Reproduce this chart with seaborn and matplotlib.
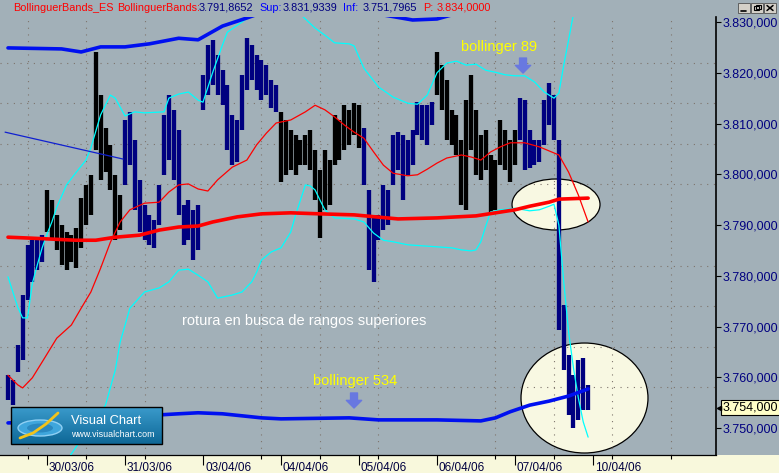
import matplotlib
matplotlib.use("Agg")
import numpy as np
import pandas as pd
import matplotlib.pyplot as plt
import seaborn as sns
import matplotlib.transforms as mtransforms
from matplotlib.patches import Ellipse, Rectangle
from matplotlib.ticker import FixedLocator, FixedFormatter, FuncFormatter
from matplotlib.colors import LinearSegmentedColormap

# ---------------- data ----------------
day_labels = ["30/03/06", "31/03/06", "03/04/06", "04/04/06",
              "05/04/06", "06/04/06", "07/04/06", "10/04/06"]
bars_per_day = 16
first_bar_offset = -0.5      # first bar sits half a session before 30/03

bar_high = [3760.4, 3759.5, 3766.4, 3776.2, 3786.1, 3787.0, 3787.4, 3788.0,
            3796.9, 3794.9, 3792.0, 3790.0, 3788.6, 3788.0, 3789.4, 3795.3,
            3797.9, 3799.9, 3824.1, 3815.6, 3809.1, 3805.8, 3799.9, 3795.9,
            3810.7, 3812.3, 3806.7, 3798.9, 3793.9, 3792.0, 3791.0, 3797.9,
            3811.7, 3815.6, 3812.7, 3808.7, 3793.9, 3794.9, 3793.0, 3793.9,
            3819.6, 3825.5, 3826.5, 3823.5, 3820.5, 3817.6, 3811.7, 3810.7,
            3819.6, 3826.8, 3825.5, 3823.5, 3822.5, 3821.5, 3818.6, 3817.6,
            3812.3, 3810.7, 3808.7, 3807.7, 3806.7, 3807.7, 3808.7, 3804.8,
            3800.8, 3804.8, 3802.8, 3811.7, 3810.7, 3813.6, 3812.7, 3814.0,
            3813.6, 3809.1, 3796.9, 3792.0, 3792.0, 3797.9, 3796.9, 3807.7,
            3808.3, 3807.7, 3806.7, 3808.7, 3814.2, 3813.6, 3813.6, 3814.2,
            3824.1, 3821.5, 3818.6, 3812.7, 3811.7, 3806.7, 3814.6, 3819.6,
            3812.7, 3807.7, 3808.7, 3803.8, 3802.8, 3810.7, 3808.7, 3806.7,
            3808.7, 3815.0, 3814.6, 3808.7, 3806.7, 3806.7, 3814.6, 3818.0,
            3815.6, 3806.7, 3774.2, 3764.4, 3760.4, 3763.4, 3763.8, 3758.5]
bar_low = [3755.5, 3754.5, 3761.0, 3763.4, 3775.2, 3778.8, 3781.1, 3782.7,
           3788.6, 3787.0, 3785.1, 3782.1, 3781.1, 3782.7, 3781.5, 3785.5,
           3790.0, 3792.0, 3804.8, 3798.9, 3800.4, 3796.9, 3787.0, 3789.0,
           3797.9, 3801.8, 3793.0, 3788.6, 3787.0, 3786.1, 3785.5, 3790.0,
           3799.9, 3802.8, 3798.9, 3792.0, 3786.1, 3787.0, 3783.1, 3785.1,
           3812.7, 3815.6, 3817.6, 3815.6, 3813.6, 3804.8, 3801.8, 3802.4,
           3808.7, 3816.6, 3818.6, 3816.6, 3814.6, 3815.6, 3813.1, 3812.3,
           3798.5, 3799.9, 3800.8, 3799.9, 3801.8, 3801.8, 3800.8, 3794.9,
           3787.4, 3793.0, 3793.9, 3801.8, 3802.8, 3804.8, 3805.8, 3807.7,
           3805.2, 3797.9, 3781.1, 3778.8, 3787.0, 3789.0, 3790.0, 3797.9,
           3800.8, 3794.9, 3799.9, 3801.8, 3807.7, 3806.7, 3805.8, 3809.7,
           3815.6, 3812.7, 3806.7, 3805.8, 3803.8, 3793.9, 3793.0, 3804.8,
           3799.9, 3798.9, 3800.8, 3792.0, 3793.0, 3801.8, 3800.8, 3798.5,
           3801.8, 3806.7, 3800.8, 3801.2, 3801.8, 3802.4, 3805.8, 3809.7,
           3806.7, 3769.3, 3761.4, 3752.6, 3750.0, 3751.6, 3753.5, 3753.5]
# 1 = black bar, 0 = navy bar (runs of bars)
bar_dark = [0] * 8 + [1] * 16 + [0] * 32 + [1] * 17 + [0] * 15 + [1] * 17 + [0] * 15

# Bollinger 534 (thick)
upper534_idx = [0, 11, 15, 19, 24, 29, 35, 39, 44, 49, 54, 60, 70, 77, 83, 88, 91, 100, 110, 119]
upper534_val = [3824.9, 3824.7, 3824.1, 3825.1, 3825.1, 3825.7, 3826.8, 3826.5, 3829.2, 3830.8,
                3832.5, 3834.0, 3833.0, 3831.4, 3830.4, 3830.6, 3831.4, 3833.5, 3835.0, 3836.0]
lower534_idx = [0, 11, 24, 35, 39, 44, 52, 56, 70, 76, 88, 97, 100, 103, 107, 111, 115, 119]
lower534_val = [3751.0, 3751.4, 3752.2, 3752.8, 3753.0, 3752.8, 3752.0, 3751.8, 3752.0,
                3751.6, 3751.6, 3751.4, 3752.0, 3753.2, 3754.5, 3755.3, 3756.3, 3757.7]
mid534_idx = [0, 5, 14, 18, 22, 27, 31, 35, 39, 42, 47, 52, 58, 64, 71, 80, 88, 96,
              100, 104, 107, 111, 113, 119]
mid534_val = [3787.6, 3787.4, 3787.0, 3787.0, 3787.6, 3788.0, 3789.0, 3789.6, 3789.8, 3790.6,
              3791.6, 3792.2, 3792.4, 3792.2, 3792.0, 3791.2, 3791.4, 3791.8, 3792.4, 3793.0,
              3793.7, 3794.5, 3795.1, 3795.3]

# Bollinger 89 (thin)
mid89_idx = [0, 2, 3, 5, 7, 10, 13, 15, 17, 19, 21, 23, 25, 28, 31, 33, 35, 37, 39, 41,
             43, 46, 49, 51, 53, 55, 58, 61, 63, 65, 67, 69, 71, 73, 75, 77, 79, 82, 84, 86,
             88, 90, 93, 95, 97, 99, 101, 103, 106, 109, 111, 113, 115, 117, 119]
mid89_val = [3760.4, 3758.5, 3757.9, 3759.9, 3763.0, 3767.7, 3770.3, 3773.6, 3776.8, 3781.5,
             3786.6, 3790.6, 3793.0, 3794.3, 3794.5, 3796.5, 3797.9, 3798.1, 3797.1, 3796.7,
             3798.9, 3801.4, 3802.8, 3805.8, 3808.1, 3810.1, 3810.7, 3812.3, 3813.6, 3812.7,
             3811.3, 3809.7, 3808.3, 3807.1, 3804.4, 3801.8, 3800.2, 3799.7, 3799.9, 3801.0,
             3802.2, 3803.2, 3803.8, 3803.4, 3802.8, 3804.4, 3805.4, 3806.2, 3806.2, 3805.4,
             3804.6, 3803.8, 3800.4, 3795.9, 3790.6]
upper89_idx = [0, 1, 2, 3, 4, 5, 6, 7, 8, 9, 10, 12, 14, 16, 17, 19, 21, 22, 24, 26, 28,
               32, 33, 35, 37, 39, 40, 42, 44, 45, 48, 50, 52, 54, 57, 59, 60, 63, 65, 67,
               70, 71, 73, 76, 79, 82, 84, 86, 88, 90, 92, 94, 96, 98, 100, 102, 104, 106,
               108, 110, 112, 113, 114, 115, 116, 117, 118, 119]
upper89_val = [3779.8, 3776.8, 3773.8, 3771.7, 3771.7, 3778.5, 3782.1, 3785.5, 3788.2, 3790.6,
               3793.5, 3797.9, 3800.4, 3802.8, 3805.2, 3811.7, 3815.6, 3815.0, 3811.5, 3812.3,
               3812.1, 3812.3, 3815.0, 3815.8, 3816.2, 3814.6, 3814.2, 3820.1, 3825.5, 3828.0,
               3830.0, 3831.4, 3833.5, 3835.0, 3835.5, 3834.0, 3831.5, 3828.8, 3827.4, 3825.9,
               3825.7, 3825.3, 3820.9, 3817.2, 3815.2, 3814.0, 3813.8, 3815.6, 3820.0, 3821.9,
               3822.3, 3821.5, 3821.7, 3820.5, 3820.1, 3819.6, 3819.4, 3819.4, 3818.2, 3816.2,
               3815.0, 3816.0, 3821.5, 3826.5, 3831.6, 3837.0, 3842.0, 3846.0]
lower89_idx = [0, 8, 12, 14, 16, 20, 22, 23, 25, 28, 31, 33, 35, 37, 39, 41, 43, 46, 48, 50,
               51, 52, 54, 56, 58, 59, 61, 62, 63, 64, 65, 67, 71, 73, 75, 77, 79, 82, 88, 91,
               93, 95, 96, 97, 98, 99, 101, 104, 107, 109, 111, 112, 113, 114, 115, 116, 117,
               118, 119]
lower89_val = [3735.0, 3739.0, 3743.5, 3746.3, 3749.2, 3754.5, 3761.4, 3766.9, 3773.6, 3776.8,
               3777.6, 3778.8, 3781.1, 3781.3, 3780.1, 3778.8, 3775.6, 3776.2, 3776.8, 3778.8,
               3780.7, 3783.1, 3784.7, 3785.5, 3788.6, 3792.0, 3797.9, 3797.7, 3796.9, 3794.9,
               3793.0, 3791.4, 3791.2, 3790.6, 3788.4, 3787.0, 3786.7, 3786.1, 3785.7, 3785.5,
               3785.1, 3784.9, 3785.1, 3786.7, 3789.8, 3792.6, 3793.0, 3793.3, 3792.8, 3793.0,
               3793.7, 3794.1, 3790.0, 3778.8, 3768.9, 3761.8, 3755.9, 3751.2, 3748.2]

# hand-drawn trend line
trend_idx = [-0.6, 23.6]
trend_val = [3808.3, 3803.0]

y_ticks = [3750, 3760, 3770, 3780, 3790, 3800, 3810, 3820, 3830]
last_price = 3754.0
hdr_mid, hdr_sup, hdr_inf, hdr_p = 3791.8652, 3831.9339, 3751.7965, 3834.0

# ---------------- style ----------------
GRAY = "#A2B0B8"
YELLOW = "#F8F8DC"
NAVY = "#000080"
CYAN = "#00FFFF"
RED = "#FF0000"
BLUE = "#0010F0"


def fmt_es(v, dec):
    s = f"{v:,.{dec}f}"
    return s.replace(",", "#").replace(".", ",").replace("#", ".")


def to_day(idx):
    return first_bar_offset + np.asarray(idx, dtype=float) / bars_per_day


sns.set_theme(style="white")
plt.rcParams["font.family"] = ["Liberation Sans", "DejaVu Sans"]

W, H = 779, 473
fig = plt.figure(figsize=(W / 100, H / 100), dpi=100, facecolor=GRAY)
fig.patches.append(Rectangle((0, 0), 1, 18 / H, transform=fig.transFigure,
                             facecolor=YELLOW, edgecolor="none", zorder=-10))

ax = fig.add_axes([0, 18 / H, 716 / W, 438 / H])
ax.set_facecolor(GRAY)
ax.set_axisbelow(False)

# price bars
xb = to_day(np.arange(len(bar_high)))
cols = ["#000000" if d else NAVY for d in bar_dark]
ax.vlines(xb, bar_low, bar_high, colors=cols, linewidth=3.1, zorder=3)


def band(idx, val, color, lw, z):
    df = pd.DataFrame({"day": to_day(idx), "value": val})
    sns.lineplot(data=df, x="day", y="value", ax=ax, color=color, linewidth=lw,
                 sort=False, estimator=None, legend=False, zorder=z)


band(upper89_idx, upper89_val, CYAN, 0.9, 4)
band(lower89_idx, lower89_val, CYAN, 0.9, 4)
band(mid89_idx, mid89_val, RED, 0.9, 4)
band(trend_idx, trend_val, "#1020D0", 0.9, 4)
band(upper534_idx, upper534_val, BLUE, 2.6, 5)
band(lower534_idx, lower534_val, BLUE, 2.6, 5)
band(mid534_idx, mid534_val, RED, 2.6, 5)

# highlight ellipses
ax.add_patch(Ellipse((6.526, 3794.04), 1.128, 10.05, facecolor="#F8F8E2",
                     edgecolor="black", lw=0.9, zorder=1))
ax.add_patch(Ellipse((6.891, 3755.91), 1.628, 21.67, facecolor="#F8F8E2",
                     edgecolor="black", lw=0.9, zorder=1))

# annotations
ax.text(5.308, 3825.07, "bollinger 89", color="#FFFF00", fontsize=10.5,
        ha="left", va="center", zorder=7)
ax.text(3.410, 3759.26, "bollinger 534", color="#FFFF00", fontsize=10.5,
        ha="left", va="center", zorder=7)
ax.text(1.731, 3771.08, "rotura en busca de rangos superiores", color="white",
        fontsize=10.5, ha="left", va="center", zorder=7)
arrow_style = "simple,head_length=0.55,head_width=1.1,tail_width=0.5"
for ax_x, y_tail, y_tip in [(6.103, 3822.9, 3819.95), (3.936, 3756.9, 3753.94)]:
    ax.annotate("", xy=(ax_x, y_tip), xytext=(ax_x, y_tail),
                arrowprops=dict(arrowstyle=arrow_style, color="#6878E0",
                                shrinkA=0, shrinkB=0, mutation_scale=10), zorder=7)

# axes limits, ticks, grid
ax.set_xlim(-0.6026, 8.577)
ax.set_ylim(3744.68, 3830.99)
ax.set_xlabel("")
ax.set_ylabel("")
grid_x = [-0.25 + 0.75 * k for k in range(12)]
grid_y = [3750 + 8 * k for k in range(11)]
ax.xaxis.set_major_locator(FixedLocator(list(range(len(day_labels)))))
ax.xaxis.set_major_formatter(FixedFormatter(day_labels))
ax.xaxis.set_minor_locator(FixedLocator(grid_x))
ax.yaxis.set_major_locator(FixedLocator(y_ticks))
ax.yaxis.set_major_formatter(FuncFormatter(lambda v, p: fmt_es(v, 3)))
ax.yaxis.set_minor_locator(FixedLocator(grid_y))
ax.yaxis.tick_right()
ax.tick_params(axis="y", which="major", direction="out", length=3.6, width=0.8,
               color="black", labelsize=9, labelcolor=NAVY, pad=0.8,
               right=True, left=False, labelright=True, labelleft=False)
ax.tick_params(axis="y", which="minor", length=0, right=False, left=False)
ax.tick_params(axis="x", which="major", direction="out", length=7.2, width=0.8,
               color="black", labelsize=8.5, labelcolor="#000040", pad=-2.2,
               bottom=True)
ax.tick_params(axis="x", which="minor", direction="out", length=3, width=0.8,
               color="black", bottom=True)
shift = mtransforms.ScaledTranslation(2 / 100, 0, fig.dpi_scale_trans)
for lab in ax.get_xticklabels():
    lab.set_horizontalalignment("left")
    lab.set_transform(lab.get_transform() + shift)
ax.grid(False, which="major")
ax.grid(True, which="minor", color="#7E746C", linestyle=(0, (1, 5)), linewidth=0.8)
for s in ["top", "left"]:
    ax.spines[s].set_visible(False)
ax.spines["right"].set_color("black")
ax.spines["right"].set_linewidth(1.2)
ax.spines["bottom"].set_color("black")
ax.spines["bottom"].set_linewidth(0.9)

# last price box on the scale
ax.annotate(fmt_es(last_price, 3), xy=(1, last_price), xycoords=ax.get_yaxis_transform(),
            xytext=(5.0, 0), textcoords="offset points", ha="left", va="center",
            fontsize=9, color="black", annotation_clip=False, zorder=10,
            bbox=dict(boxstyle="square,pad=0.12", fc="#FFFFC8", ec="black", lw=0.8))
ax.plot([1.004], [last_price], marker="<", ms=3, color="black",
        transform=ax.get_yaxis_transform(), clip_on=False, zorder=10)

# header line
hdr_y = 1 - 8 / H
header = [(13, "BollinguerBands_ES", RED), (117, "BollinguerBands:", RED),
          (199, fmt_es(hdr_mid, 4), NAVY), (259, "Sup:", "#0000FF"),
          (283, fmt_es(hdr_sup, 4), NAVY), (343, "Inf:", "#0000FF"),
          (363, fmt_es(hdr_inf, 4), NAVY), (423, "P:", RED),
          (437, fmt_es(hdr_p, 4), RED)]
for px, s, c in header:
    fig.text(px / W, hdr_y, s, color=c, fontsize=7.8, ha="left", va="center")

# overlay in pixel coordinates: logo and window buttons
ov = fig.add_axes([0, 0, 1, 1], zorder=10)
ov.patch.set_visible(False)
ov.axis("off")
cmap = LinearSegmentedColormap.from_list("logo", ["#3A9ACB", "#0E6897"])
ov.imshow(np.linspace(0, 1, 40)[:, None], cmap=cmap, aspect="auto",
          extent=(11, 162, 444, 407), zorder=1)
ov.add_patch(Rectangle((11, 407), 151, 37, fill=False, ec="black", lw=1, zorder=2))
ov.add_patch(Ellipse((40, 428), 44, 16, facecolor="#3FA6DC", edgecolor="#8FD0F4",
                     lw=1.0, zorder=2))
ov.add_patch(Ellipse((40, 428), 26, 9, facecolor="#2A88C0", edgecolor="none", zorder=2))
ov.plot([20, 33, 46, 58], [438, 433, 424, 413], color="#F2C31A", lw=2, zorder=3,
        solid_capstyle="round")
ov.text(71, 421, "Visual Chart", color="white", fontsize=9.3, ha="left",
        va="center", zorder=3)
ov.text(71, 434, "www.visualchart.com", color="white", fontsize=6.4, ha="left",
        va="center", zorder=3)
for x0 in [738, 751, 764]:
    ov.add_patch(Rectangle((x0, 3), 12, 10, facecolor="#D4D0C8", edgecolor="#505050",
                           lw=0.6, zorder=2))
ov.plot([741, 746], [11, 11], color="black", lw=1.2, zorder=3)
ov.add_patch(Rectangle((754, 6.5), 5, 4, fill=False, ec="black", lw=0.8, zorder=3))
ov.add_patch(Rectangle((756, 5), 5, 4, fill=False, ec="black", lw=0.8, zorder=3))
ov.plot([767, 773], [5.5, 10.5], color="black", lw=1.1, zorder=3)
ov.plot([767, 773], [10.5, 5.5], color="black", lw=1.1, zorder=3)
ov.set_xlim(0, W)
ov.set_ylim(H, 0)

fig.savefig("out.png", dpi=100, facecolor=fig.get_facecolor())
